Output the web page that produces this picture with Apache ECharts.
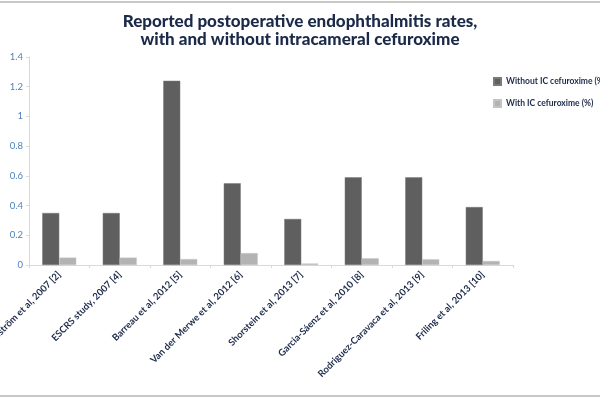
<!DOCTYPE html>
<html><head><meta charset="utf-8">
<script src="https://cdn.jsdelivr.net/npm/echarts@6/dist/echarts.min.js"></script>
<style>html,body{margin:0;padding:0;background:#fff}#c{width:600px;height:400px}</style>
</head><body><div id="c"></div>
<script>
const categories = ["Lundström et al, 2007 [2]", "ESCRS study, 2007 [4]", "Barreau et al, 2012 [5]", "Van der Merwe et al, 2012 [6]", "Shorstein et al, 2013 [7]", "Garcia-Sáenz et al, 2010 [8]", "Rodriguez-Caravaca et al, 2013 [9]", "Friling et al, 2013 [10]"];
const withoutIC = [0.35, 0.35, 1.24, 0.55, 0.31, 0.59, 0.59, 0.39];
const withIC = [0.05, 0.05, 0.04, 0.08, 0.01, 0.045, 0.038, 0.027];
const yTicks = [0, 0.2, 0.4, 0.6, 0.8, 1, 1.2, 1.4];
const seriesNames = ["Without IC cefuroxime (%)", "With IC cefuroxime (%)"];

const chart = echarts.init(document.getElementById('c'));
const navy = '#1c2a4a';
chart.setOption({
  animation: false,
  title: {
    text: 'Reported postoperative endophthalmitis rates,\nwith and without intracameral cefuroxime',
    left: 'center', top: 8,
    textStyle: { fontFamily: 'Lato', fontWeight: 900, fontSize: 17, lineHeight: 18, color: navy }
  },
  legend: {
    orient: 'vertical', left: 488, top: 72, itemWidth: 7, itemHeight: 7, itemGap: 13,
    icon: 'rect',
    textStyle: { fontFamily: 'Lato', fontWeight: 'bold', fontSize: 8.5, color: navy },
    data: seriesNames
  },
  graphic: [
    { type: 'rect', shape: { x: 0, y: 1, width: 600, height: 2 }, style: { fill: '#c8c8c8' } },
    { type: 'rect', shape: { x: 0, y: 395, width: 600, height: 2 }, style: { fill: '#c8c8c8' } }
  ],
  grid: { left: 29, right: 87, top: 57, bottom: 135, containLabel: false, outerBoundsMode: 'none' },
  xAxis: {
    type: 'category', data: categories,
    axisLine: { lineStyle: { color: '#d9d9d9' } },
    axisTick: { show: true, length: 3, lineStyle: { color: '#d9d9d9' } },
    axisLabel: { rotate: 45, interval: 0, margin: 8, fontFamily: 'Lato', fontWeight: 'bold', fontSize: 9.5, color: navy }
  },
  yAxis: {
    type: 'value', min: 0, max: 1.4, interval: 0.2,
    splitLine: { show: false },
    axisLine: { show: true, lineStyle: { color: '#d9d9d9' } },
    axisTick: { show: true, length: 3, lineStyle: { color: '#d9d9d9' } },
    axisLabel: { margin: 6, fontFamily: 'Lato', fontSize: 9.5, color: '#4f81bd',
      formatter: v => { const t = yTicks.find(x => Math.abs(x - v) < 1e-9); return t === undefined ? '' : String(t); } }
  },
  series: [
    { name: seriesNames[0], type: 'bar', data: withoutIC, barWidth: 17, barGap: '0%',
      itemStyle: { color: '#5f5f5f', borderColor: '#7a7a7a', borderWidth: 0.5 } },
    { name: seriesNames[1], type: 'bar', data: withIC, barWidth: 17, barGap: '0%',
      itemStyle: { color: '#b3b3b3', borderColor: '#c4c4c4', borderWidth: 0.5 } }
  ]
});
</script></body></html>
